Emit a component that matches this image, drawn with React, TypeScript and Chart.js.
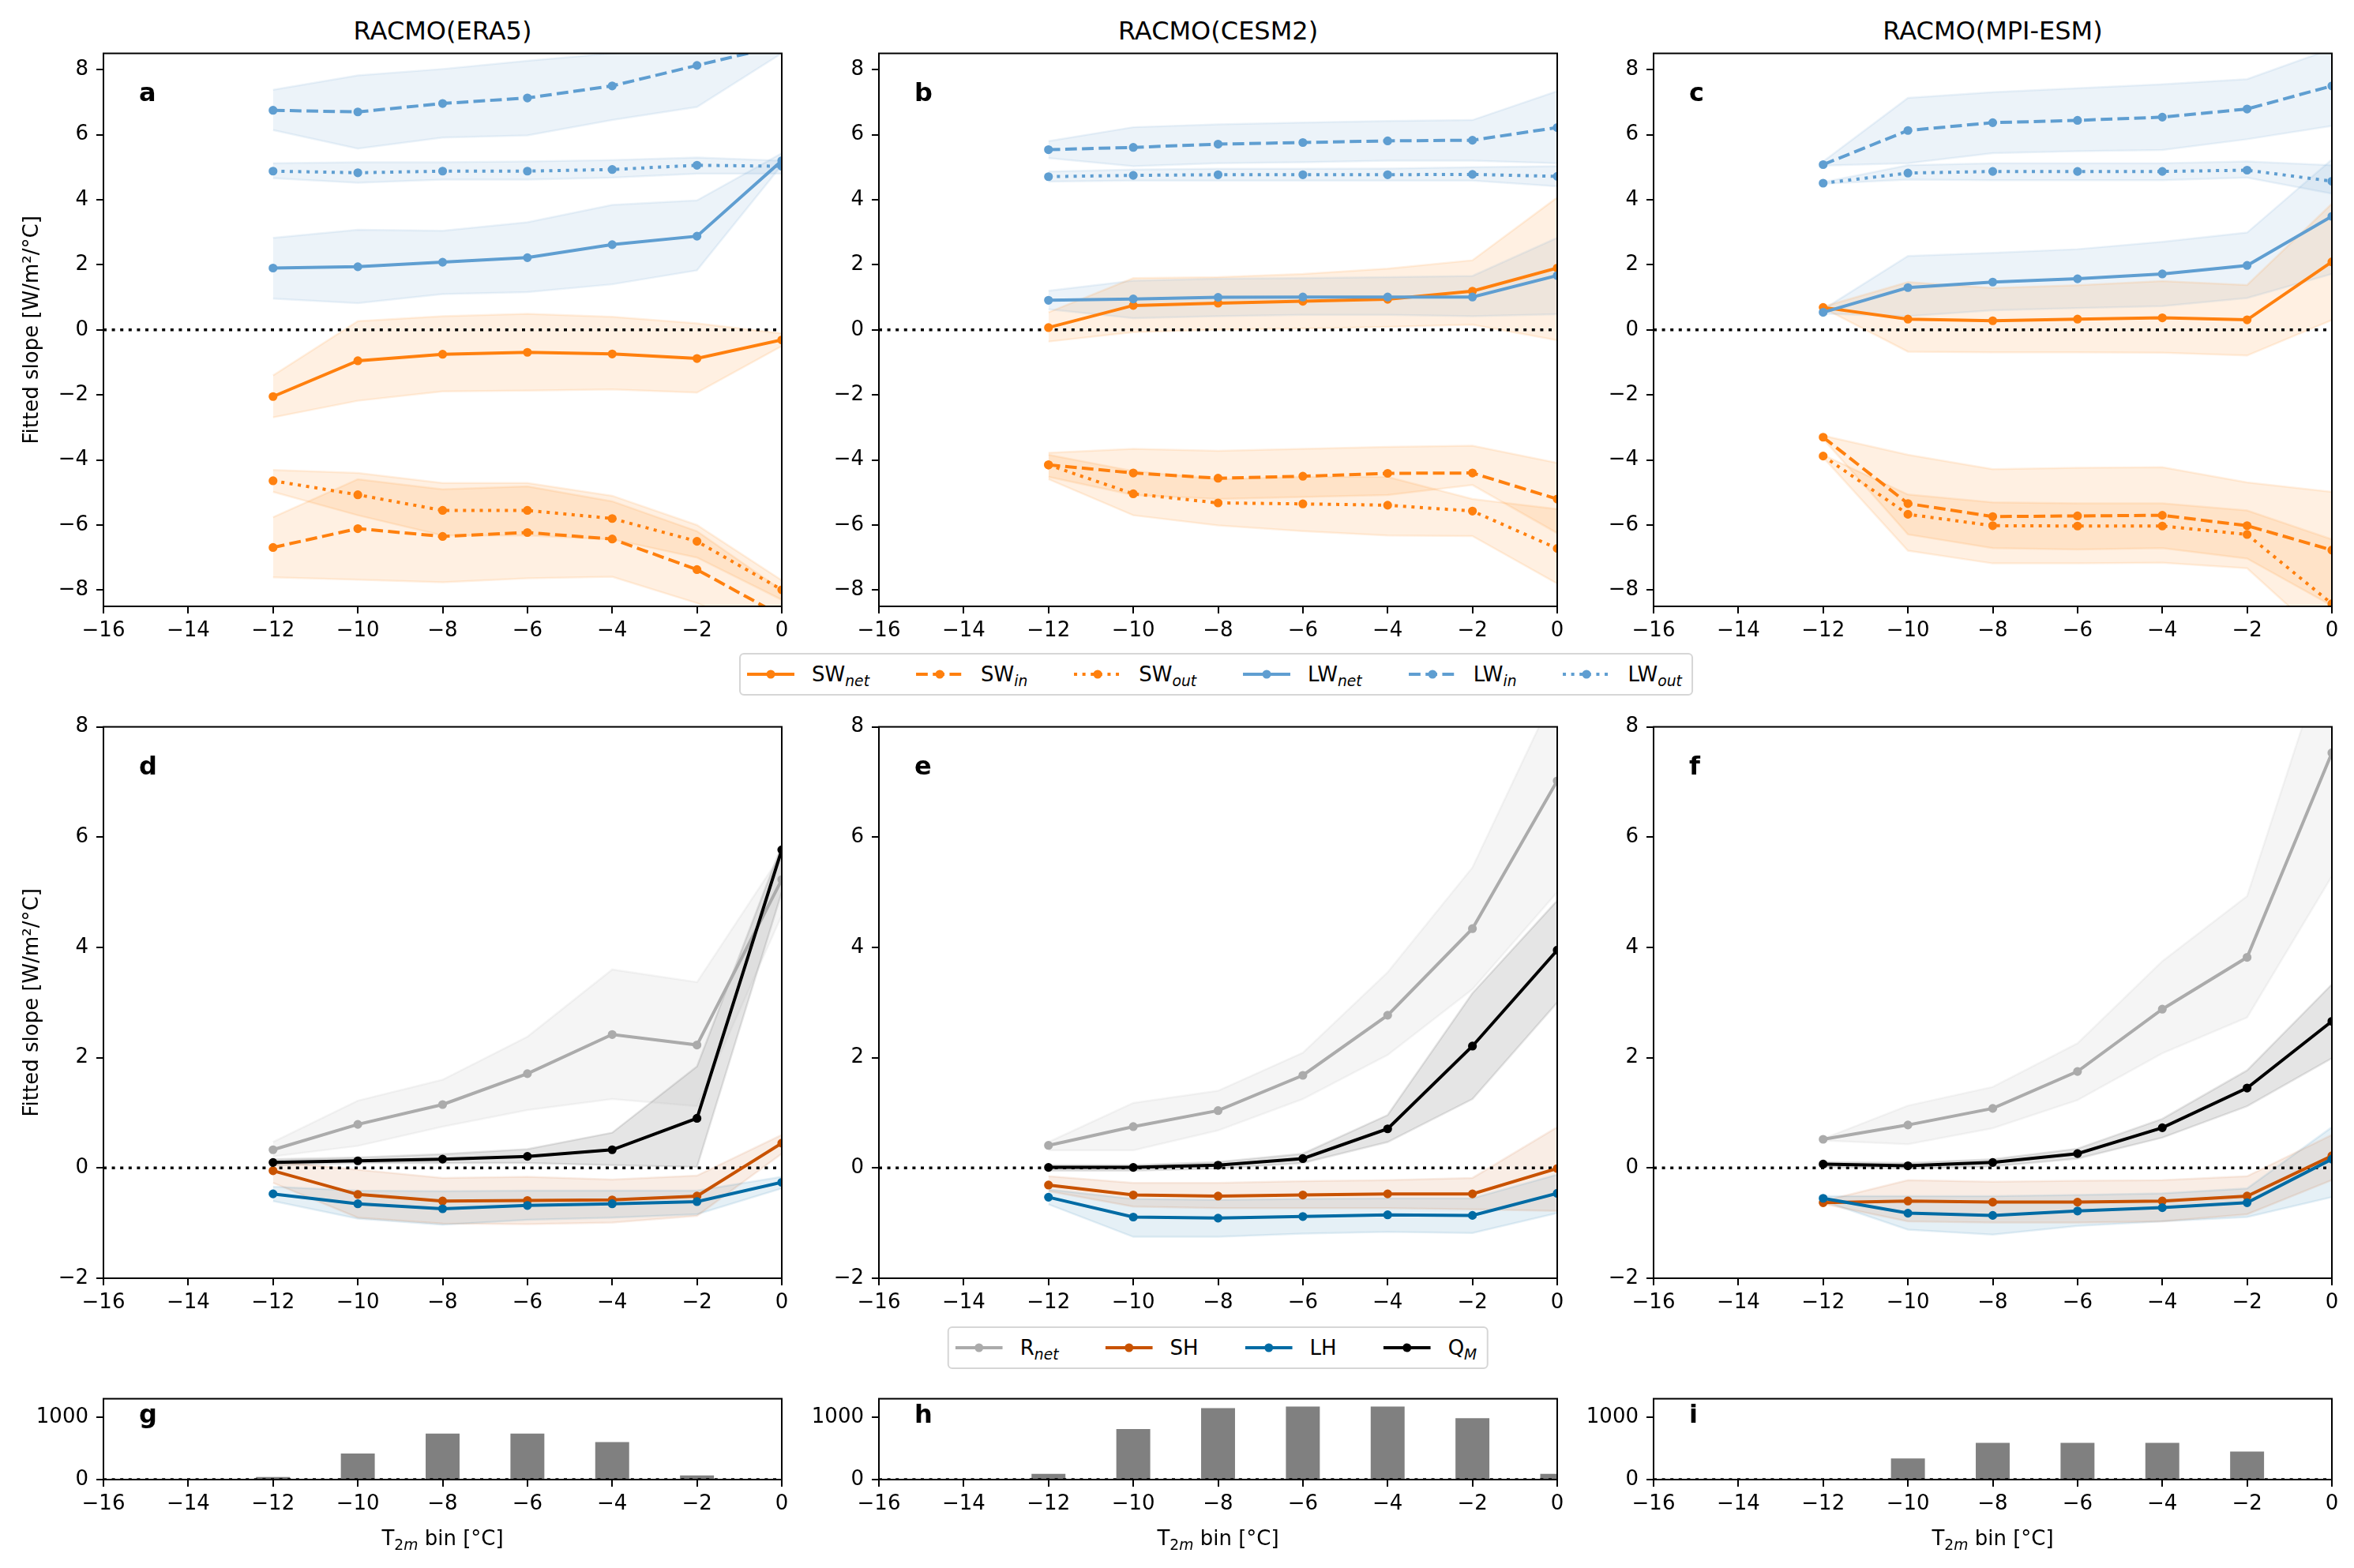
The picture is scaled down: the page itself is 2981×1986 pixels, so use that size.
import React, { useEffect, useRef } from "react";
import Chart from "chart.js/auto";

const FONT = "'DejaVu Sans', sans-serif";
Chart.defaults.font.family = FONT;
Chart.defaults.color = "#000";

// ---- data ----
const bins = [-12, -10, -8, -6, -4, -2, 0];
const xTicks = [-16, -14, -12, -10, -8, -6, -4, -2, 0];
const radTicks = [-8, -6, -4, -2, 0, 2, 4, 6, 8];
const turbTicks = [-2, 0, 2, 4, 6, 8];
const countTicks = [0, 1000];

const titles = ["RACMO(ERA5)", "RACMO(CESM2)", "RACMO(MPI-ESM)"];
const radLetters = ["a", "b", "c"];
const turbLetters = ["d", "e", "f"];
const countLetters = ["g", "h", "i"];
const radLabels = [["SW", "net"], ["SW", "in"], ["SW", "out"], ["LW", "net"], ["LW", "in"], ["LW", "out"]];
const turbLabels = [["R", "net"], ["SH", ""], ["LH", ""], ["Q", "M"]];

// a: RACMO(ERA5)
const a_SWnet = [-2.05, -0.95, -0.75, -0.69, -0.74, -0.88, -0.31];
const a_SWnet_lo = [-2.69, -2.18, -1.89, -1.87, -1.83, -1.93, -0.5];
const a_SWnet_hi = [-1.4, 0.27, 0.42, 0.49, 0.4, 0.2, -0.11];
const a_SWin = [-6.69, -6.11, -6.35, -6.23, -6.43, -7.37, -8.8];
const a_SWin_lo = [-7.61, -7.68, -7.76, -7.64, -7.59, -8.4, -9.5];
const a_SWin_hi = [-5.76, -4.59, -4.9, -4.81, -5.27, -6.19, -8.0];
const a_SWout = [-4.64, -5.07, -5.55, -5.55, -5.8, -6.5, -7.99];
const a_SWout_lo = [-4.98, -5.7, -6.32, -6.32, -6.44, -7.0, -8.3];
const a_SWout_hi = [-4.31, -4.4, -4.71, -4.71, -5.1, -6.0, -7.7];
const a_LWnet = [1.9, 1.94, 2.08, 2.22, 2.62, 2.88, 5.2];
const a_LWnet_lo = [0.96, 0.82, 1.1, 1.16, 1.4, 1.83, 5.06];
const a_LWnet_hi = [2.83, 3.08, 3.05, 3.31, 3.84, 3.98, 5.43];
const a_LWin = [6.75, 6.7, 6.96, 7.13, 7.5, 8.13, 8.75];
const a_LWin_lo = [6.14, 5.57, 5.91, 5.98, 6.45, 6.85, 8.5];
const a_LWin_hi = [7.38, 7.82, 8.02, 8.27, 8.5, 8.7, 9.5];
const a_LWout = [4.88, 4.83, 4.88, 4.88, 4.93, 5.06, 5.03];
const a_LWout_lo = [4.66, 4.52, 4.62, 4.62, 4.68, 4.8, 4.8];
const a_LWout_hi = [5.12, 5.15, 5.15, 5.18, 5.22, 5.3, 5.2];

// b: RACMO(CESM2)
const b_SWnet = [0.07, 0.75, 0.82, 0.88, 0.94, 1.19, 1.9];
const b_SWnet_lo = [-0.36, -0.07, 0.01, 0.04, 0.09, 0.16, -0.32];
const b_SWnet_hi = [0.54, 1.59, 1.62, 1.72, 1.88, 2.14, 4.07];
const b_SWin = [-4.15, -4.4, -4.56, -4.5, -4.41, -4.4, -5.2];
const b_SWin_lo = [-4.52, -5.08, -5.2, -5.14, -5.08, -4.77, -6.25];
const b_SWin_hi = [-3.78, -3.66, -3.72, -3.66, -3.6, -3.56, -4.09];
const b_SWout = [-4.15, -5.04, -5.32, -5.35, -5.39, -5.57, -6.72];
const b_SWout_lo = [-4.59, -5.7, -6.01, -6.19, -6.32, -6.34, -7.8];
const b_SWout_hi = [-3.84, -4.34, -4.59, -4.52, -4.52, -5.2, -5.51];
const b_LWnet = [0.91, 0.95, 1.0, 1.01, 1.01, 1.01, 1.67];
const b_LWnet_lo = [0.63, 0.36, 0.42, 0.46, 0.46, 0.42, 0.48];
const b_LWnet_hi = [1.2, 1.51, 1.57, 1.59, 1.62, 1.66, 2.83];
const b_LWin = [5.54, 5.61, 5.71, 5.76, 5.81, 5.83, 6.22];
const b_LWin_lo = [5.28, 5.03, 5.12, 5.15, 5.2, 5.2, 5.12];
const b_LWin_hi = [5.8, 6.23, 6.32, 6.37, 6.42, 6.45, 7.34];
const b_LWout = [4.71, 4.75, 4.77, 4.77, 4.77, 4.78, 4.72];
const b_LWout_lo = [4.56, 4.59, 4.59, 4.59, 4.59, 4.59, 4.41];
const b_LWout_hi = [4.87, 4.93, 4.95, 4.95, 4.96, 5.0, 5.03];

// c: RACMO(MPI-ESM)
const c_SWnet = [0.69, 0.33, 0.28, 0.33, 0.37, 0.31, 2.09];
const c_SWnet_lo = [0.67, -0.67, -0.69, -0.69, -0.7, -0.79, 0.3];
const c_SWnet_hi = [0.71, 1.47, 1.29, 1.37, 1.5, 1.38, 3.88];
const c_SWin = [-3.3, -5.34, -5.74, -5.72, -5.7, -6.02, -6.77];
const c_SWin_lo = [-3.35, -6.29, -6.71, -6.75, -6.71, -7.03, -8.48];
const c_SWin_hi = [-3.25, -3.84, -4.28, -4.24, -4.22, -4.69, -4.98];
const c_SWout = [-3.88, -5.67, -6.02, -6.03, -6.03, -6.29, -8.42];
const c_SWout_lo = [-3.92, -6.79, -7.18, -7.18, -7.16, -7.33, -9.7];
const c_SWout_hi = [-3.84, -5.06, -5.3, -5.33, -5.33, -5.55, -6.44];
const c_LWnet = [0.54, 1.3, 1.47, 1.57, 1.72, 1.98, 3.49];
const c_LWnet_lo = [0.5, 0.42, 0.6, 0.67, 0.73, 0.98, 1.72];
const c_LWnet_hi = [0.63, 2.27, 2.37, 2.48, 2.71, 2.99, 5.24];
const c_LWin = [5.08, 6.13, 6.37, 6.44, 6.54, 6.79, 7.5];
const c_LWin_lo = [5.05, 5.12, 5.43, 5.49, 5.53, 5.86, 6.27];
const c_LWin_hi = [5.18, 7.13, 7.31, 7.43, 7.55, 7.71, 8.64];
const c_LWout = [4.51, 4.82, 4.87, 4.87, 4.87, 4.91, 4.57];
const c_LWout_lo = [4.49, 4.62, 4.6, 4.6, 4.6, 4.68, 4.19];
const c_LWout_hi = [4.54, 5.06, 5.12, 5.12, 5.12, 5.18, 5.06];

// d: RACMO(ERA5) turbulent / melt
const d_Rnet = [0.33, 0.79, 1.15, 1.71, 2.42, 2.23, 5.23];
const d_Rnet_lo = [0.21, 0.4, 0.75, 1.05, 1.25, 1.12, 4.58];
const d_Rnet_hi = [0.47, 1.22, 1.6, 2.38, 3.6, 3.37, 5.7];
const d_SH = [-0.05, -0.48, -0.6, -0.59, -0.58, -0.51, 0.45];
const d_SH_lo = [-0.27, -0.9, -1.01, -1.02, -0.99, -0.87, 0.26];
const d_SH_hi = [0.12, -0.03, -0.18, -0.16, -0.21, -0.14, 0.6];
const d_LH = [-0.47, -0.65, -0.74, -0.68, -0.65, -0.61, -0.26];
const d_LH_lo = [-0.6, -0.92, -1.03, -0.94, -0.9, -0.84, -0.37];
const d_LH_hi = [-0.34, -0.41, -0.42, -0.41, -0.41, -0.41, -0.16];
const d_QM = [0.1, 0.13, 0.16, 0.21, 0.33, 0.9, 5.77];
const d_QM_lo = [0.05, 0.09, 0.09, 0.09, 0.05, 0.02, 5.0];
const d_QM_hi = [0.16, 0.19, 0.25, 0.34, 0.64, 1.84, 5.85];

// e: RACMO(CESM2)
const e_Rnet = [0.41, 0.75, 1.04, 1.68, 2.77, 4.34, 7.02];
const e_Rnet_lo = [0.32, 0.32, 0.68, 1.25, 2.05, 3.24, 5.0];
const e_Rnet_hi = [0.47, 1.18, 1.4, 2.09, 3.55, 5.45, 8.7];
const e_SH = [-0.31, -0.49, -0.51, -0.49, -0.47, -0.47, -0.01];
const e_SH_lo = [-0.42, -0.7, -0.73, -0.73, -0.73, -0.75, -0.78];
const e_SH_hi = [-0.15, -0.27, -0.27, -0.24, -0.22, -0.18, 0.74];
const e_LH = [-0.53, -0.89, -0.91, -0.88, -0.85, -0.86, -0.46];
const e_LH_lo = [-0.66, -1.25, -1.25, -1.19, -1.16, -1.18, -0.82];
const e_LH_hi = [-0.39, -0.56, -0.58, -0.56, -0.55, -0.55, -0.12];
const e_QM = [0.01, 0.01, 0.05, 0.17, 0.71, 2.21, 3.95];
const e_QM_lo = [-0.05, -0.05, -0.01, 0.09, 0.47, 1.25, 3.0];
const e_QM_hi = [0.05, 0.05, 0.11, 0.26, 0.96, 3.17, 4.85];

// f: RACMO(MPI-ESM)
const f_Rnet = [0.52, 0.78, 1.08, 1.75, 2.88, 3.82, 7.53];
const f_Rnet_lo = [0.5, 0.43, 0.72, 1.23, 2.08, 2.73, 5.29];
const f_Rnet_hi = [0.53, 1.13, 1.47, 2.26, 3.75, 4.93, 9.65];
const f_SH = [-0.63, -0.6, -0.62, -0.62, -0.6, -0.51, 0.22];
const f_SH_lo = [-0.65, -0.97, -0.99, -0.99, -0.97, -0.84, -0.22];
const f_SH_hi = [-0.6, -0.22, -0.25, -0.23, -0.22, -0.15, 0.6];
const f_LH = [-0.55, -0.82, -0.86, -0.78, -0.72, -0.63, 0.16];
const f_LH_lo = [-0.6, -1.12, -1.21, -1.05, -0.97, -0.89, -0.53];
const f_LH_hi = [-0.51, -0.51, -0.51, -0.49, -0.46, -0.37, 0.74];
const f_QM = [0.07, 0.04, 0.1, 0.26, 0.73, 1.45, 2.66];
const f_QM_lo = [0.02, -0.01, 0.03, 0.17, 0.55, 1.12, 1.99];
const f_QM_hi = [0.11, 0.09, 0.16, 0.35, 0.89, 1.77, 3.33];

// g-i: number of samples per T2m bin
const g_count = [41, 419, 739, 739, 602, 66, 0];
const h_count = [91, 813, 1149, 1174, 1174, 988, 91];
const i_count = [0, 340, 589, 589, 589, 452, 0];

// ---- styles ----
const SW = "#FF800E";
const LW = "#5F9ED1";
const RNET = "#ABABAB";
const SHC = "#C85200";
const LHC = "#006BA4";
const QMC = "#000000";
const SOLID: number[] = [];
const DASHED = [14.8, 6.4];
const DOTTED = [4, 6.6];

type Series = { color: string; dash: number[]; mid: number[]; lo: number[]; hi: number[]; alpha: number };

const radStyles = [
  { color: SW, dash: SOLID },
  { color: SW, dash: DASHED },
  { color: SW, dash: DOTTED },
  { color: LW, dash: SOLID },
  { color: LW, dash: DASHED },
  { color: LW, dash: DOTTED },
];
const turbStyles = [
  { color: RNET, dash: SOLID, alpha: 0.12 },
  { color: SHC, dash: SOLID, alpha: 0.1 },
  { color: LHC, dash: SOLID, alpha: 0.1 },
  { color: QMC, dash: SOLID, alpha: 0.1 },
];

const radData = [
  [[a_SWnet, a_SWnet_lo, a_SWnet_hi], [a_SWin, a_SWin_lo, a_SWin_hi], [a_SWout, a_SWout_lo, a_SWout_hi],
   [a_LWnet, a_LWnet_lo, a_LWnet_hi], [a_LWin, a_LWin_lo, a_LWin_hi], [a_LWout, a_LWout_lo, a_LWout_hi]],
  [[b_SWnet, b_SWnet_lo, b_SWnet_hi], [b_SWin, b_SWin_lo, b_SWin_hi], [b_SWout, b_SWout_lo, b_SWout_hi],
   [b_LWnet, b_LWnet_lo, b_LWnet_hi], [b_LWin, b_LWin_lo, b_LWin_hi], [b_LWout, b_LWout_lo, b_LWout_hi]],
  [[c_SWnet, c_SWnet_lo, c_SWnet_hi], [c_SWin, c_SWin_lo, c_SWin_hi], [c_SWout, c_SWout_lo, c_SWout_hi],
   [c_LWnet, c_LWnet_lo, c_LWnet_hi], [c_LWin, c_LWin_lo, c_LWin_hi], [c_LWout, c_LWout_lo, c_LWout_hi]],
];
const turbData = [
  [[d_Rnet, d_Rnet_lo, d_Rnet_hi], [d_SH, d_SH_lo, d_SH_hi], [d_LH, d_LH_lo, d_LH_hi], [d_QM, d_QM_lo, d_QM_hi]],
  [[e_Rnet, e_Rnet_lo, e_Rnet_hi], [e_SH, e_SH_lo, e_SH_hi], [e_LH, e_LH_lo, e_LH_hi], [e_QM, e_QM_lo, e_QM_hi]],
  [[f_Rnet, f_Rnet_lo, f_Rnet_hi], [f_SH, f_SH_lo, f_SH_hi], [f_LH, f_LH_lo, f_LH_hi], [f_QM, f_QM_lo, f_QM_hi]],
];
const counts = [g_count, h_count, i_count];

// ---- layout ----
const COL_LEFT = [131, 1113, 2094];
const PANEL_W = 859;
const ROW_TOP = { rad: 66, turb: 919, count: 1770 };
const ROW_H = { rad: 702, turb: 700, count: 104 };
const YW = 120;
const XH = 60;
const PT = 24;
const PR = 20;
const YLABEL = "Fitted slope [W/m\u00b2/\u00b0C]";

const fmt = (v: number | string) => {
  const n = Number(v);
  return n < 0 ? "\u2212" + Math.abs(n) : String(n);
};

const rgba = (hex: string, a: number) => {
  const n = parseInt(hex.slice(1), 16);
  return `rgba(${(n >> 16) & 255},${(n >> 8) & 255},${n & 255},${a})`;
};

const framePlugin = {
  id: "frame",
  afterDraw(chart: any) {
    const { ctx, chartArea: a } = chart;
    ctx.save();
    ctx.strokeStyle = "#000";
    ctx.lineWidth = 2;
    ctx.strokeRect(a.left, a.top, a.right - a.left, a.bottom - a.top);
    ctx.restore();
  },
};

const tickGrid = { drawOnChartArea: false, drawTicks: true, tickLength: 9, color: "#000", lineWidth: 2 };

function xScale() {
  return {
    type: "linear",
    min: xTicks[0],
    max: xTicks[xTicks.length - 1],
    offset: false,
    afterBuildTicks: (s: any) => {
      s.ticks = xTicks.map((v) => ({ value: v }));
    },
    afterFit: (s: any) => {
      s.height = XH;
    },
    grid: { ...tickGrid, offset: false },
    border: { display: false },
    ticks: { font: { size: 26 }, color: "#000", padding: 7, maxRotation: 0, autoSkip: false, callback: fmt },
  };
}

function yScale(ticks: number[], min: number, max: number, title: boolean) {
  return {
    type: "linear",
    min,
    max,
    afterBuildTicks: (s: any) => {
      s.ticks = ticks.map((v) => ({ value: v }));
    },
    afterFit: (s: any) => {
      s.width = YW;
    },
    grid: tickGrid,
    border: { display: false },
    ticks: { font: { size: 26 }, color: "#000", padding: 10, autoSkip: false, callback: fmt },
    title: { display: title, text: YLABEL, font: { size: 26 }, color: "#000", padding: { top: 15, bottom: 0 } },
  };
}

function zeroLine() {
  return {
    type: "line",
    data: [
      { x: xTicks[0], y: 0 },
      { x: xTicks[xTicks.length - 1], y: 0 },
    ],
    borderColor: "#000",
    borderWidth: 3.5,
    borderDash: DOTTED,
    pointRadius: 0,
    clip: 0,
    order: 20,
  };
}

function lineConfig(series: Series[], ticks: number[], min: number, max: number, title: boolean): any {
  const datasets: any[] = [];
  series.forEach((s) => {
    const edge = rgba(s.color, s.alpha);
    datasets.push({
      type: "line",
      data: bins.map((x, i) => ({ x, y: s.hi[i] })),
      borderColor: edge,
      borderWidth: 2.5,
      pointRadius: 0,
      fill: false,
      clip: 0,
      order: 50,
    });
    datasets.push({
      type: "line",
      data: bins.map((x, i) => ({ x, y: s.lo[i] })),
      borderColor: edge,
      backgroundColor: rgba(s.color, s.alpha),
      borderWidth: 2.5,
      pointRadius: 0,
      fill: "-1",
      clip: 0,
      order: 50,
    });
  });
  datasets.push(zeroLine());
  series.forEach((s, k) => {
    datasets.push({
      type: "line",
      data: bins.map((x, i) => ({ x, y: s.mid[i] })),
      borderColor: s.color,
      borderWidth: 4,
      borderDash: s.dash,
      pointRadius: 4.6,
      pointBorderWidth: 2,
      pointBackgroundColor: s.color,
      pointBorderColor: s.color,
      fill: false,
      clip: 0,
      order: 10 - k,
    });
  });
  return {
    type: "line",
    data: { datasets },
    options: {
      responsive: false,
      animation: false,
      devicePixelRatio: 1,
      layout: { padding: { top: PT, right: PR, left: 0, bottom: 0 } },
      plugins: {
        legend: { display: false },
        tooltip: { enabled: false },
        filler: { drawTime: "beforeDatasetsDraw" },
      },
      scales: { x: xScale(), y: yScale(ticks, min, max, title) },
    },
    plugins: [framePlugin],
  };
}

function barConfig(values: number[]): any {
  return {
    type: "bar",
    data: {
      datasets: [
        { ...zeroLine(), order: 0 },
        {
          type: "bar",
          data: bins.map((x, i) => ({ x, y: values[i] })),
          backgroundColor: "#808080",
          borderWidth: 0,
          barPercentage: 0.4,
          categoryPercentage: 1,
          clip: 0,
          order: 5,
        },
      ],
    },
    options: {
      responsive: false,
      animation: false,
      devicePixelRatio: 1,
      layout: { padding: { top: PT, right: PR, left: 0, bottom: 0 } },
      plugins: { legend: { display: false }, tooltip: { enabled: false } },
      scales: { x: xScale(), y: yScale(countTicks, 0, 1300, false) },
    },
    plugins: [framePlugin],
  };
}

function ChartBox({ left, top, h, config }: { left: number; top: number; h: number; config: any }) {
  const ref = useRef<HTMLCanvasElement>(null);
  const width = YW + PANEL_W + PR;
  const height = PT + h + XH;
  useEffect(() => {
    if (!ref.current) return;
    const chart = new Chart(ref.current, config);
    return () => chart.destroy();
  }, []);
  return (
    <canvas
      ref={ref}
      width={width}
      height={height}
      style={{ position: "absolute", left: left - YW, top: top - PT, width, height }}
    />
  );
}

const subStyle: React.CSSProperties = { fontSize: "0.72em", verticalAlign: "-0.32em", lineHeight: 0, fontStyle: "italic" };

function Handle({ color, dash }: { color: string; dash: number[] }) {
  return (
    <svg width={60} height={20} style={{ display: "block" }}>
      <line x1={0} y1={10} x2={60} y2={10} stroke={color} strokeWidth={4} strokeDasharray={dash.length ? dash.join(" ") : undefined} />
      <circle cx={30} cy={10} r={5.5} fill={color} />
    </svg>
  );
}

function Legend({ cx, cy, items }: { cx: number; cy: number; items: { color: string; dash: number[]; label: string[] }[] }) {
  return (
    <div
      style={{
        position: "absolute",
        left: cx,
        top: cy,
        transform: "translate(-50%, -50%)",
        height: 54,
        boxSizing: "border-box",
        border: "2px solid #d6d6d6",
        borderRadius: 6,
        padding: "0 12px 0 8px",
        display: "flex",
        alignItems: "center",
        background: "#fff",
        fontSize: 26,
        lineHeight: 1,
        whiteSpace: "nowrap",
      }}
    >
      {items.map((it, k) => (
        <div key={k} style={{ display: "flex", alignItems: "center", marginLeft: k === 0 ? 0 : 59 }}>
          <Handle color={it.color} dash={it.dash} />
          <span style={{ marginLeft: 22 }}>
            {it.label[0]}
            {it.label[1] ? <sub style={subStyle}>{it.label[1]}</sub> : null}
          </span>
        </div>
      ))}
    </div>
  );
}

const textBase: React.CSSProperties = { position: "absolute", lineHeight: 1, whiteSpace: "nowrap" };

export default function App() {
  useEffect(() => {
    document.body.style.margin = "0";
  }, []);

  const radSeries = (p: number): Series[] =>
    radStyles.map((st, k) => ({ ...st, alpha: 0.12, mid: radData[p][k][0], lo: radData[p][k][1], hi: radData[p][k][2] }));
  const turbSeries = (p: number): Series[] =>
    turbStyles.map((st, k) => ({ ...st, mid: turbData[p][k][0], lo: turbData[p][k][1], hi: turbData[p][k][2] }));

  return (
    <div style={{ position: "relative", width: 2981, height: 1986, background: "#fff", fontFamily: FONT, color: "#000", overflow: "hidden" }}>
      {COL_LEFT.map((L, p) => (
        <React.Fragment key={p}>
          <div style={{ ...textBase, fontSize: 32, left: L + PANEL_W / 2, top: 23, transform: "translateX(-50%)" }}>{titles[p]}</div>
          <ChartBox left={L} top={ROW_TOP.rad} h={ROW_H.rad} config={lineConfig(radSeries(p), radTicks, -8.5, 8.5, p === 0)} />
          <ChartBox left={L} top={ROW_TOP.turb} h={ROW_H.turb} config={lineConfig(turbSeries(p), turbTicks, -2, 8, p === 0)} />
          <ChartBox left={L} top={ROW_TOP.count} h={ROW_H.count} config={barConfig(counts[p])} />
          <div style={{ ...textBase, fontSize: 32, fontWeight: "bold", left: L + 45, top: ROW_TOP.rad + 35 }}>{radLetters[p]}</div>
          <div style={{ ...textBase, fontSize: 32, fontWeight: "bold", left: L + 45, top: ROW_TOP.turb + 35 }}>{turbLetters[p]}</div>
          <div style={{ ...textBase, fontSize: 32, fontWeight: "bold", left: L + 45, top: ROW_TOP.count + 5 }}>{countLetters[p]}</div>
          <div style={{ ...textBase, fontSize: 26, left: L + PANEL_W / 2, top: 1935, transform: "translateX(-50%)" }}>
            T<sub style={{ ...subStyle, fontStyle: "normal" }}>2<i>m</i></sub> bin [°C]
          </div>
        </React.Fragment>
      ))}
      <Legend cx={1540} cy={854} items={radStyles.map((st, k) => ({ ...st, label: radLabels[k] }))} />
      <Legend cx={1542} cy={1707} items={turbStyles.map((st, k) => ({ ...st, label: turbLabels[k] }))} />
    </div>
  );
}
